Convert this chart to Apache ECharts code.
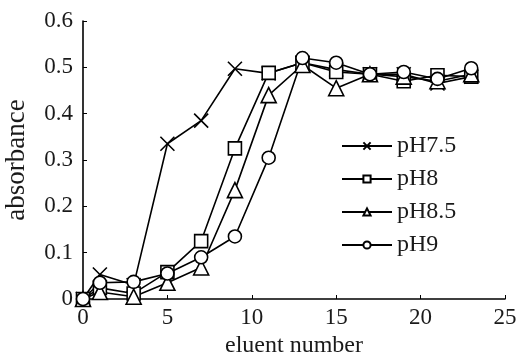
<!DOCTYPE html>
<html>
<head>
<meta charset="utf-8">
<title>absorbance</title>
<script src="https://cdn.jsdelivr.net/npm/echarts@6/dist/echarts.min.js"></script>
<style>
  html, body { margin: 0; padding: 0; background: #fff; }
  #main { width: 518px; height: 358px; }
</style>
</head>
<body>
<div id="main"></div>
<script>
// eluent numbers (x) and absorbance for each pH
var eluent = [0, 1, 3, 5, 7, 9, 11, 13, 15, 17, 19, 21, 23];
var ph75  = [0, 0.053, 0.030, 0.335, 0.385, 0.497, 0.487, 0.510, 0.495, 0.485, 0.485, 0.465, 0.480];
var ph8   = [0, 0.024, 0.012, 0.058, 0.125, 0.325, 0.488, 0.510, 0.490, 0.485, 0.470, 0.483, 0.480];
var ph85  = [0, 0.015, 0.005, 0.035, 0.068, 0.235, 0.440, 0.505, 0.455, 0.485, 0.480, 0.470, 0.485];
var ph9   = [0, 0.035, 0.037, 0.055, 0.090, 0.135, 0.305, 0.520, 0.510, 0.485, 0.490, 0.475, 0.498];
var names = ['pH7.5', 'pH8', 'pH8.5', 'pH9'];
var yTicks = ['0', '0.1', '0.2', '0.3', '0.4', '0.5', '0.6'];

var font = 'Liberation Serif';
var ink = '#1a1a1a';
var cross = 'path://M0,0L10,10M10,0L0,10';

function pairs(ys) {
    var out = [];
    for (var i = 0; i < eluent.length; i++) out.push([eluent[i], ys[i]]);
    return out;
}

function mk(name, ys, symbol, size) {
    return {
        name: name,
        type: 'line',
        data: pairs(ys),
        symbol: symbol,
        symbolSize: size,
        showAllSymbol: true,
        lineStyle: { color: '#000', width: 1.6 },
        itemStyle: { color: '#fff', borderColor: '#000', borderWidth: 1.6 },
        emphasis: { disabled: true },
        animation: false
    };
}

var myChart = echarts.init(document.getElementById('main'));
var option = {
    backgroundColor: '#fff',
    grid: { left: 83, right: 13, top: 21, bottom: 59, containLabel: false, outerBoundsMode: 'none' },
    legend: {
        orient: 'vertical',
        left: 336,
        top: 129,
        itemWidth: 50,
        itemHeight: 9,
        itemGap: 9,
        textStyle: { fontFamily: font, fontSize: 24, color: ink },
        data: names
    },
    xAxis: {
        type: 'value',
        min: 0, max: 25, interval: 5,
        name: 'eluent number',
        nameLocation: 'middle',
        nameGap: 35,
        nameTextStyle: { fontFamily: font, fontSize: 24, color: ink },
        axisLine: { lineStyle: { color: '#000', width: 1.6 } },
        axisTick: { inside: true, length: 4, lineStyle: { color: '#000' } },
        axisLabel: { fontFamily: font, fontSize: 23, color: ink, margin: 7 },
        splitLine: { show: false }
    },
    yAxis: {
        type: 'value',
        min: 0, max: 0.6, interval: 0.1,
        name: 'absorbance',
        nameLocation: 'middle',
        nameGap: 53,
        nameTextStyle: { fontFamily: font, fontSize: 27, color: ink },
        axisLine: { show: true, lineStyle: { color: '#000', width: 1.6 } },
        axisTick: { show: true, inside: true, length: 4, lineStyle: { color: '#000' } },
        axisLabel: {
            fontFamily: font, fontSize: 23, color: ink, margin: 10,
            formatter: function (v) { return yTicks[Math.round(v * 10)]; }
        },
        splitLine: { show: false }
    },
    series: [
        mk(names[0], ph75, cross, 14),
        mk(names[1], ph8, 'rect', 13),
        mk(names[2], ph85, 'triangle', 15),
        mk(names[3], ph9, 'circle', 13)
    ]
};
myChart.setOption(option);
</script>
</body>
</html>
